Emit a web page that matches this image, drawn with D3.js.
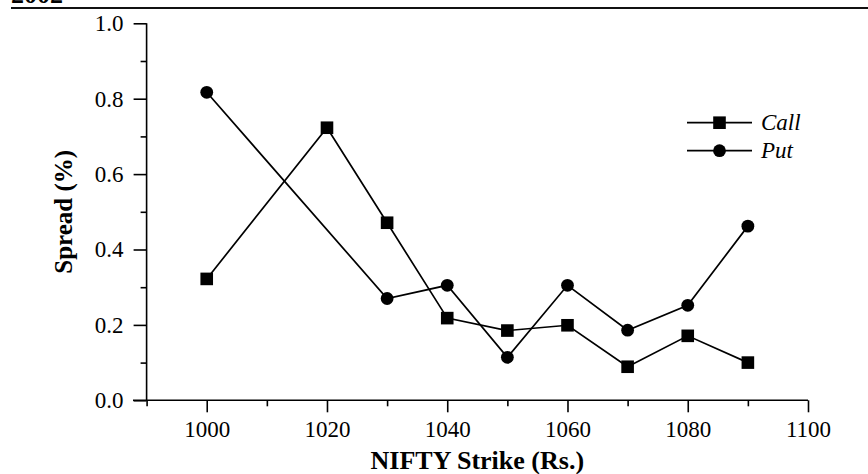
<!DOCTYPE html>
<html>
<head>
<meta charset="utf-8">
<script src="https://cdn.jsdelivr.net/npm/d3@7"></script>
<style>
  body { margin: 0; background: #fff; }
  svg { display: block; font-family: "Liberation Serif", "Times New Roman", serif; }
</style>
</head>
<body>
<div class="container"></div>
<script>
// strike prices and bid-ask spreads (%)
const strikes = [1000, 1020, 1030, 1040, 1050, 1060, 1070, 1080, 1090];
const callSpread = [0.322, 0.723, 0.471, 0.218, 0.185, 0.199, 0.089, 0.171, 0.100];
const putSpread = [0.817, null, 0.270, 0.305, 0.114, 0.305, 0.186, 0.252, 0.462];

const xMajor = [1000, 1020, 1040, 1060, 1080, 1100];
const xMinor = [990, 1010, 1030, 1050, 1070, 1090];
const yMajor = [0.0, 0.2, 0.4, 0.6, 0.8, 1.0];
const yMinor = [0.1, 0.3, 0.5, 0.7, 0.9];

const width = 868;
const height = 474;

const svg = d3.select('.container')
  .append('svg')
  .attr('width', width)
  .attr('height', height);

const x = d3.scaleLinear().domain([990, 1100]).range([146.6, 808]);
const y = d3.scaleLinear().domain([0, 1]).range([400.3, 23.3]);

// header rule with clipped year (page break of the source)
svg.append('text')
  .attr('x', 11).attr('y', 2.5)
  .attr('font-size', 26).attr('font-weight', 'bold')
  .text('2002');
svg.append('line')
  .attr('x1', 11).attr('x2', width)
  .attr('y1', 8).attr('y2', 8)
  .attr('stroke', '#111').attr('stroke-width', 2.2);

// axes: minor ticks first, then major ticks with labels
const xg = svg.append('g').attr('transform', `translate(0,${y(0)})`);
xg.call(d3.axisBottom(x).tickValues(xMinor).tickSize(6).tickSizeOuter(0).tickFormat(''));
xg.call(g => g.select('.domain').remove());
const xg2 = svg.append('g').attr('transform', `translate(0,${y(0)})`);
xg2.call(d3.axisBottom(x).tickValues(xMajor).tickSize(12).tickPadding(8).tickSizeOuter(0).tickFormat(d3.format('d')));
xg2.select('.domain').attr('d', `M133,0H${x(1100)}`);

const yg = svg.append('g').attr('transform', `translate(${x(990)},0)`);
yg.call(d3.axisLeft(y).tickValues(yMinor).tickSize(6).tickSizeOuter(0).tickFormat(''));
yg.call(g => g.select('.domain').remove());
const yg2 = svg.append('g').attr('transform', `translate(${x(990)},0)`);
yg2.call(d3.axisLeft(y).tickValues(yMajor).tickSize(13).tickPadding(10).tickSizeOuter(0).tickFormat(d3.format('.1f')));
yg2.select('.domain').attr('d', `M0,${y(1)}V${y(0)}`);

svg.selectAll('.tick line, .domain').attr('stroke', '#000').attr('stroke-width', 1.6);
svg.selectAll('.tick text')
  .attr('font-family', '"Liberation Serif", serif')
  .attr('font-size', 23)
  .attr('fill', '#000');

// axis titles
svg.append('text')
  .attr('x', (x(990) + x(1100)) / 2).attr('y', 469)
  .attr('text-anchor', 'middle')
  .attr('font-size', 26).attr('font-weight', 'bold')
  .text('NIFTY Strike (Rs.)');
svg.append('text')
  .attr('transform', `translate(72,${(y(0) + y(1)) / 2}) rotate(-90)`)
  .attr('text-anchor', 'middle')
  .attr('font-size', 25).attr('font-weight', 'bold')
  .text('Spread (%)');

// series
const callData = strikes.map((s, i) => [s, callSpread[i]]);
const putData = strikes.map((s, i) => [s, putSpread[i]]).filter(d => d[1] !== null);

const line = d3.line().x(d => x(d[0])).y(d => y(d[1]));

svg.append('path').datum(callData)
  .attr('d', line).attr('fill', 'none').attr('stroke', '#000').attr('stroke-width', 1.7);
svg.append('path').datum(putData)
  .attr('d', line).attr('fill', 'none').attr('stroke', '#000').attr('stroke-width', 1.7);

const sq = 12.6;
svg.selectAll('rect.call')
  .data(callData)
  .enter()
  .append('rect')
  .attr('class', 'call')
  .attr('x', d => x(d[0]) - sq / 2)
  .attr('y', d => y(d[1]) - sq / 2)
  .attr('width', sq).attr('height', sq)
  .attr('fill', '#000');

svg.selectAll('circle.put')
  .data(putData)
  .enter()
  .append('circle')
  .attr('class', 'put')
  .attr('cx', d => x(d[0]))
  .attr('cy', d => y(d[1]))
  .attr('r', 6.4)
  .attr('fill', '#000');

// legend
const legend = svg.append('g');
const items = [{name: 'Call', ly: 122.7}, {name: 'Put', ly: 150.7}];
items.forEach((it, i) => {
  legend.append('line')
    .attr('x1', 687).attr('x2', 752)
    .attr('y1', it.ly).attr('y2', it.ly)
    .attr('stroke', '#000').attr('stroke-width', 1.7);
  if (i === 0) {
    legend.append('rect')
      .attr('x', 719.5 - sq / 2).attr('y', it.ly - sq / 2)
      .attr('width', sq).attr('height', sq).attr('fill', '#000');
  } else {
    legend.append('circle')
      .attr('cx', 719.5).attr('cy', it.ly).attr('r', 6.4).attr('fill', '#000');
  }
  legend.append('text')
    .attr('x', 761).attr('y', it.ly + 7)
    .attr('font-size', 23).attr('font-style', 'italic')
    .text(it.name);
});
</script>
</body>
</html>
